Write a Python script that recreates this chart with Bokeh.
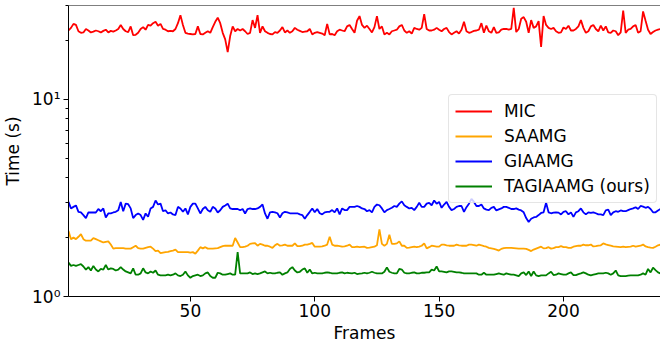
from bokeh.plotting import figure
from bokeh.models import Range1d, FixedTicker, Span, Legend, LegendItem
from bokeh.embed import file_html
from bokeh.resources import INLINE

frames = list(range(1, 240))

mic = [
    22.4, 23.1, 24.2, 23.9, 22.2, 21.8, 21.9, 22.8, 22.4, 21.9,
    22.1, 22.4, 22.2, 21.9, 22.3, 22.6, 21.9, 22.3, 22.1, 22.4,
    22.8, 23.9, 22.8, 22.2, 22.0, 23.5, 21.2, 21.3, 21.8, 22.8,
    23.3, 22.6, 23.9, 23.7, 24.4, 24.8, 23.7, 24.2, 22.8, 22.6,
    22.2, 22.3, 22.2, 22.8, 24.4, 26.8, 23.9, 21.8, 21.6, 21.5,
    21.4, 21.5, 23.5, 21.5, 21.4, 21.8, 22.2, 21.8, 23.3, 24.8,
    26.0, 24.4, 21.8, 20.2, 17.4, 21.0, 23.5, 22.2, 22.8, 22.4,
    22.8, 22.2, 21.5, 21.8, 25.3, 23.1, 26.8, 21.8, 23.5, 22.2,
    21.8, 21.5, 21.4, 22.0, 21.8, 22.4, 23.3, 21.9, 22.4, 21.8,
    22.2, 23.1, 22.6, 22.3, 22.0, 22.1, 22.2, 22.8, 21.4, 21.8,
    22.0, 21.8, 21.6, 21.2, 24.2, 21.4, 21.5, 21.2, 22.2, 22.6,
    22.4, 22.2, 23.5, 23.9, 22.8, 21.8, 25.1, 26.5, 23.9, 23.1,
    23.7, 22.8, 21.9, 23.3, 26.5, 22.8, 23.5, 21.4, 21.8, 21.4,
    22.2, 22.4, 22.6, 23.5, 23.9, 22.4, 21.8, 22.2, 21.6, 23.1,
    22.8, 22.6, 23.1, 27.1, 22.8, 22.4, 22.4, 22.6, 23.1, 22.6,
    22.2, 22.8, 23.1, 22.0, 21.4, 21.8, 22.2, 21.6, 22.6, 24.8,
    22.2, 21.8, 22.0, 22.3, 22.4, 22.6, 24.4, 21.8, 23.7, 22.2,
    21.8, 23.3, 21.8, 21.9, 22.6, 22.8, 22.8, 22.6, 22.8, 29.2,
    22.0, 22.8, 25.7, 26.2, 24.8, 21.8, 25.3, 23.1, 23.5, 25.0,
    18.5, 26.5, 23.9, 23.1, 22.8, 23.1, 22.2, 21.8, 21.9, 23.2,
    22.8, 23.7, 22.4, 22.4, 22.8, 23.5, 25.3, 23.1, 21.8, 22.2,
    23.5, 23.9, 22.8, 22.2, 23.7, 22.4, 23.5, 21.9, 21.8, 22.4,
    22.2, 21.2, 21.9, 28.3, 21.8, 22.6, 22.8, 23.5, 23.9, 21.8,
    22.2, 28.0, 25.1, 22.6, 21.5, 22.0, 22.4, 22.6, 22.8,
]

saamg = [
    2.15, 1.955, 1.99, 1.955, 2.01, 2.07, 1.955, 1.92, 1.92, 1.92,
    1.98, 1.955, 1.93, 1.905, 1.88, 1.895, 1.905, 1.835, 1.75, 1.76,
    1.76, 1.76, 1.76, 1.75, 1.75, 1.75, 1.78, 1.81, 1.76, 1.75,
    1.75, 1.765, 1.78, 1.79, 1.75, 1.70, 1.71, 1.66, 1.67, 1.68,
    1.685, 1.70, 1.71, 1.73, 1.68, 1.68, 1.68, 1.68, 1.68, 1.67,
    1.68, 1.65, 1.71, 1.78, 1.755, 1.78, 1.75, 1.75, 1.75, 1.755,
    1.76, 1.78, 1.80, 1.81, 1.81, 1.81, 1.81, 1.98, 1.88, 1.78,
    1.78, 1.79, 1.81, 1.85, 1.86, 1.865, 1.81, 1.85, 1.835, 1.81,
    1.81, 1.79, 1.765, 1.82, 1.85, 1.81, 1.82, 1.835, 1.81, 1.81,
    1.81, 1.86, 1.80, 1.80, 1.81, 1.835, 1.835, 1.85, 1.87, 1.79,
    1.79, 1.79, 1.795, 1.81, 1.835, 2.01, 1.835, 1.81, 1.81, 1.80,
    1.79, 1.795, 1.81, 1.835, 1.78, 1.78, 1.79, 1.78, 1.785, 1.79,
    1.765, 1.77, 1.78, 1.79, 1.82, 2.19, 1.85, 1.81, 1.85, 2.06,
    1.85, 1.85, 1.86, 1.905, 1.81, 1.81, 1.765, 1.77, 1.78, 1.79,
    1.78, 1.79, 1.81, 1.86, 1.755, 1.78, 1.81, 1.80, 1.79, 1.79,
    1.835, 1.835, 1.82, 1.81, 1.81, 1.81, 1.835, 1.82, 1.81, 1.81,
    1.81, 1.835, 1.835, 1.825, 1.81, 1.835, 1.82, 1.80, 1.79, 1.765,
    1.755, 1.745, 1.73, 1.71, 1.745, 1.76, 1.765, 1.765, 1.765, 1.76,
    1.755, 1.75, 1.75, 1.75, 1.745, 1.725, 1.70, 1.73, 1.75, 1.77,
    1.79, 1.755, 1.76, 1.78, 1.75, 1.76, 1.78, 1.78, 1.80, 1.78,
    1.78, 1.765, 1.765, 1.79, 1.80, 1.81, 1.81, 1.835, 1.82, 1.82,
    1.835, 1.795, 1.80, 1.81, 1.82, 1.86, 1.84, 1.825, 1.81, 1.795,
    1.79, 1.785, 1.78, 1.79, 1.78, 1.785, 1.79, 1.81, 1.79, 1.80,
    1.81, 1.835, 1.795, 1.78, 1.77, 1.765, 1.79, 1.82, 1.835,
]

giaamg = [
    3.02, 2.80, 2.85, 2.90, 2.69, 2.67, 2.59, 2.50, 2.67, 2.67,
    2.67, 2.67, 2.78, 2.71, 2.80, 2.52, 2.64, 2.64, 2.67, 2.69,
    2.74, 3.02, 2.71, 2.96, 2.94, 2.80, 2.50, 2.59, 2.64, 2.59,
    2.45, 2.64, 2.54, 2.80, 2.85, 3.07, 2.93, 2.96, 2.71, 2.74,
    2.64, 2.67, 2.61, 2.59, 2.85, 2.80, 2.69, 2.80, 2.61, 2.85,
    2.96, 2.96, 2.80, 2.64, 2.78, 2.85, 2.74, 2.69, 2.85, 2.80,
    2.67, 2.74, 2.85, 2.90, 2.96, 2.80, 2.78, 2.78, 2.78, 2.74,
    2.78, 2.64, 2.78, 2.80, 2.78, 2.78, 2.80, 2.85, 2.93, 2.64,
    2.48, 2.675, 2.69, 2.675, 2.645, 2.52, 2.645, 2.69, 2.675, 2.645,
    2.645, 2.645, 2.645, 2.61, 2.59, 2.48, 2.59, 2.69, 2.80, 2.675,
    2.78, 2.645, 2.61, 2.675, 2.69, 2.69, 2.745, 2.675, 2.80, 2.61,
    2.80, 2.745, 2.745, 2.85, 2.85, 2.85, 2.88, 2.85, 2.80, 2.78,
    2.71, 2.745, 2.675, 2.85, 2.93, 2.905, 2.80, 2.675, 2.745, 2.78,
    2.82, 2.88, 2.85, 2.96, 3.04, 2.905, 2.85, 2.80, 2.82, 2.745,
    2.85, 2.99, 2.85, 2.85, 2.96, 2.99, 2.905, 3.07, 2.96, 3.02,
    2.82, 2.93, 3.02, 2.85, 2.745, 2.78, 2.85, 2.88, 2.88, 2.69,
    2.84, 2.96, 3.13, 3.02, 2.88, 2.88, 2.93, 2.80, 2.76, 2.745,
    2.82, 2.85, 2.735, 2.77, 2.80, 2.85, 2.85, 2.82, 2.78, 2.78,
    2.80, 2.76, 2.735, 2.675, 2.50, 2.39, 2.48, 2.52, 2.535, 2.59,
    2.655, 2.675, 2.99, 2.675, 2.645, 2.665, 2.675, 2.665, 2.61, 2.69,
    2.71, 2.61, 2.675, 2.535, 2.675, 2.71, 2.80, 2.675, 2.61, 2.675,
    2.655, 2.675, 2.645, 2.61, 2.61, 2.59, 2.735, 2.76, 2.59, 2.675,
    2.71, 2.69, 2.735, 2.71, 2.71, 2.745, 2.78, 2.80, 2.84, 2.78,
    2.88, 2.86, 2.82, 2.85, 2.78, 2.675, 2.675, 2.735, 2.78,
]

tagiaamg = [
    1.485, 1.43, 1.445, 1.43, 1.445, 1.46, 1.42, 1.37, 1.41, 1.355,
    1.43, 1.37, 1.34, 1.38, 1.37, 1.445, 1.37, 1.39, 1.38, 1.355,
    1.37, 1.41, 1.37, 1.34, 1.325, 1.31, 1.39, 1.29, 1.29, 1.31,
    1.39, 1.325, 1.31, 1.34, 1.32, 1.355, 1.29, 1.28, 1.28, 1.28,
    1.29, 1.28, 1.29, 1.31, 1.28, 1.27, 1.29, 1.34, 1.28, 1.245,
    1.27, 1.28, 1.29, 1.27, 1.28, 1.31, 1.325, 1.27, 1.245, 1.245,
    1.32, 1.31, 1.29, 1.29, 1.30, 1.31, 1.29, 1.29, 1.68, 1.31,
    1.31, 1.31, 1.31, 1.325, 1.30, 1.31, 1.30, 1.31, 1.325, 1.34,
    1.31, 1.32, 1.31, 1.31, 1.32, 1.325, 1.29, 1.31, 1.325, 1.38,
    1.41, 1.355, 1.325, 1.335, 1.37, 1.39, 1.32, 1.37, 1.31, 1.32,
    1.31, 1.31, 1.31, 1.32, 1.325, 1.32, 1.31, 1.31, 1.31, 1.32,
    1.325, 1.31, 1.32, 1.315, 1.31, 1.32, 1.30, 1.305, 1.31, 1.32,
    1.31, 1.32, 1.335, 1.32, 1.31, 1.31, 1.31, 1.335, 1.405, 1.335,
    1.32, 1.31, 1.31, 1.38, 1.37, 1.32, 1.31, 1.31, 1.32, 1.325,
    1.31, 1.31, 1.32, 1.32, 1.325, 1.325, 1.37, 1.355, 1.42, 1.34,
    1.34, 1.335, 1.325, 1.34, 1.34, 1.335, 1.325, 1.325, 1.32, 1.31,
    1.31, 1.31, 1.31, 1.31, 1.31, 1.29, 1.29, 1.32, 1.29, 1.29,
    1.29, 1.29, 1.30, 1.31, 1.30, 1.29, 1.31, 1.30, 1.29, 1.29,
    1.28, 1.27, 1.31, 1.325, 1.285, 1.34, 1.27, 1.34, 1.28, 1.27,
    1.28, 1.28, 1.28, 1.31, 1.335, 1.285, 1.29, 1.31, 1.30, 1.29,
    1.29, 1.31, 1.325, 1.285, 1.285, 1.30, 1.31, 1.325, 1.31, 1.29,
    1.28, 1.29, 1.30, 1.31, 1.31, 1.31, 1.32, 1.31, 1.29, 1.31,
    1.355, 1.28, 1.27, 1.27, 1.27, 1.275, 1.28, 1.28, 1.28, 1.28,
    1.29, 1.31, 1.29, 1.38, 1.325, 1.40, 1.36, 1.325, 1.31,
]

labels = ["MIC", "SAAMG", "GIAAMG", "TAGIAAMG (ours)"]
colors = ["red", "orange", "blue", "green"]
x_ticks = [50, 100, 150, 200]
y_ticks = [1, 10]
y_minor = [2, 3, 4, 5, 6, 7, 8, 9, 20, 30]

for s in (mic, saamg, giaamg, tagiaamg):
    assert len(s) == len(frames), len(s)

FONT = "DejaVu Sans"
FS = "17px"

p = figure(width=660, height=345, output_backend="svg", toolbar_location=None,
           y_axis_type="log", x_range=Range1d(1, 239), y_range=Range1d(1, 30),
           min_border_left=66, min_border_right=0, min_border_top=5,
           min_border_bottom=47)
p.background_fill_color = "white"
p.border_fill_color = "white"
p.outline_line_color = None
p.grid.visible = False

renderers = []
for ys, c in zip((mic, saamg, giaamg, tagiaamg), colors):
    r = p.line(frames, ys, line_color=c, line_width=1.8)
    renderers.append(r)

p.add_layout(Span(location=30, dimension="width", line_color="black", line_width=1))

xa = p.xaxis[0]
ya = p.yaxis[0]
xa.ticker = FixedTicker(ticks=x_ticks)
ya.ticker = FixedTicker(ticks=y_ticks, minor_ticks=y_minor)
ya.major_label_overrides = {1: "10\u2070", 10: "10\u00b9"}
xa.axis_label = "Frames"
ya.axis_label = "Time (s)"
for ax in (xa, ya):
    ax.axis_line_color = "black"
    ax.axis_line_width = 1
    ax.major_tick_line_color = "black"
    ax.major_tick_out = 5
    ax.major_tick_in = 0
    ax.minor_tick_out = 3
    ax.minor_tick_in = 0
    ax.major_label_text_font = FONT
    ax.major_label_text_font_size = FS
    ax.major_label_text_color = "black"
    ax.axis_label_text_font = FONT
    ax.axis_label_text_font_size = FS
    ax.axis_label_text_font_style = "normal"
    ax.axis_label_text_color = "black"
xa.minor_tick_line_color = None
ya.minor_tick_line_color = "black"
xa.major_label_standoff = 2
xa.axis_label_standoff = 3
ya.major_label_standoff = 3
ya.axis_label_standoff = 6

legend = Legend(items=[LegendItem(label=l, renderers=[r]) for l, r in zip(labels, renderers)],
                location=(380, 93))
legend.label_text_font = FONT
legend.label_text_font_size = FS
legend.label_text_color = "black"
legend.glyph_width = 37
legend.glyph_height = 20
legend.label_height = 20
legend.label_standoff = 12
legend.spacing = 5
legend.padding = 6
legend.margin = 0
legend.border_line_color = "#cccccc"
legend.border_line_width = 1
legend.background_fill_color = "white"
legend.background_fill_alpha = 0.8
if "border_radius" in Legend.properties():
    legend.border_radius = 4
p.add_layout(legend)

open("out.html", "w").write(file_html(p, INLINE))
